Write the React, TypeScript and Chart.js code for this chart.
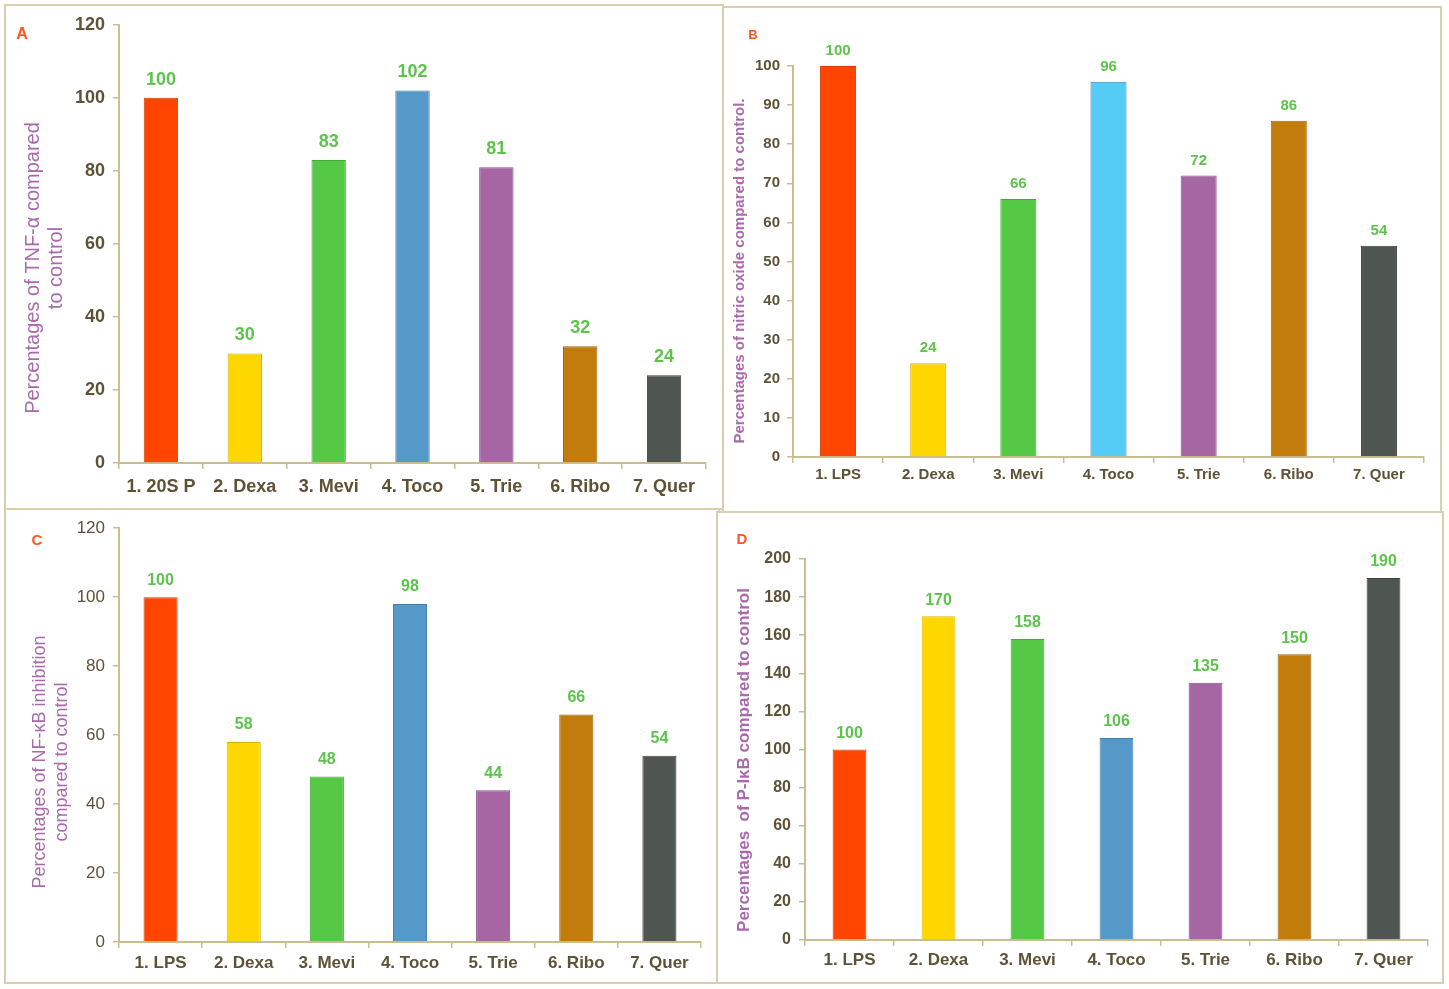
import React, { useEffect, useRef } from "react";
import { Chart, registerables } from "chart.js";

Chart.register(...registerables);

// ---------- data ----------
const labelsA = ["1. 20S P", "2. Dexa", "3. Mevi", "4. Toco", "5. Trie", "6. Ribo", "7. Quer"];
const labelsBCD = ["1. LPS", "2. Dexa", "3. Mevi", "4. Toco", "5. Trie", "6. Ribo", "7. Quer"];
const valuesA = [100, 30, 83, 102, 81, 32, 24];
const valuesB = [100, 24, 66, 96, 72, 86, 54];
const valuesC = [100, 58, 48, 98, 44, 66, 54];
const valuesD = [100, 170, 158, 106, 135, 150, 190];
const titleA = ["Percentages of TNF-\u03b1 compared", "to control"];
const titleB = ["Percentages of nitric oxide compared to control."];
const titleC = ["Percentages of NF-\u03baB inhibition", "compared to control"];
const titleD = ["Percentages  of P-I\u03baB compared to control"];

// ---------- styles ----------
const barColors = ["#ff4500", "#ffd700", "#55c946", "#5599c8", "#a566a3", "#c27c0c", "#4f5551"];
const barColorsB = ["#ff4500", "#ffd700", "#55c946", "#55ccf5", "#a566a3", "#c27c0c", "#4f5551"];
const barBorders = ["#d63a00", "#d8b400", "#45a838", "#427eaa", "#875086", "#9c6208", "#3a403c"];
const TAN = "#cbbd92";
const TICK = "#5e5236";
const GREEN = "#5cc44a";
const PURPLE = "#a96aac";
const LETTER = "#ff5522";
const FAMILY = "'Liberation Sans', Arial, sans-serif";

type PanelCfg = {
  rect: { l: number; t: number; r: number; b: number };
  area: { l: number; t: number; r: number; b: number };
  labels: string[];
  values: number[];
  colors: string[];
  max: number;
  step: number;
  yFont: { size: number; weight: string };
  xFont: { size: number; weight: string };
  xPad: number;
  yPad: number;
  valFont: number;
  valOff: number;
  barPct: number;
  letter: string;
  letterPos: [number, number];
  letterSize: number;
  title: string[];
  titleX: number[];
  titleY: number;
  titleFont: string;
};

const panels: PanelCfg[] = [
  {
    rect: { l: 6, t: 6, r: 722, b: 508 },
    area: { l: 119, t: 24, r: 706, b: 463 },
    labels: labelsA, values: valuesA, colors: barColors, max: 120, step: 20,
    yFont: { size: 18, weight: "bold" }, xFont: { size: 18, weight: "bold" },
    xPad: 7, yPad: 8, valFont: 18, valOff: 18, barPct: 0.41,
    letter: "A", letterPos: [22, 35], letterSize: 16,
    title: titleA, titleX: [33, 56], titleY: 268, titleFont: "normal 20px " + FAMILY,
  },
  {
    rect: { l: 724, t: 8, r: 1440, b: 512 },
    area: { l: 793, t: 66, r: 1424, b: 457 },
    labels: labelsBCD, values: valuesB, colors: barColorsB, max: 100, step: 10,
    yFont: { size: 15, weight: "bold" }, xFont: { size: 15, weight: "bold" },
    xPad: 3, yPad: 7, valFont: 15, valOff: 15, barPct: 0.4,
    letter: "B", letterPos: [753, 35], letterSize: 13,
    title: titleB, titleX: [740], titleY: 271, titleFont: "bold 15px " + FAMILY,
  },
  {
    rect: { l: 6, t: 510, r: 718, b: 982 },
    area: { l: 119, t: 528, r: 701, b: 942 },
    labels: labelsBCD, values: valuesC, colors: barColors, max: 120, step: 20,
    yFont: { size: 17, weight: "normal" }, xFont: { size: 17, weight: "bold" },
    xPad: 5, yPad: 8, valFont: 16, valOff: 17, barPct: 0.41,
    letter: "C", letterPos: [37, 541], letterSize: 15,
    title: titleC, titleX: [40, 62], titleY: 762, titleFont: "normal 18px " + FAMILY,
  },
  {
    rect: { l: 718, t: 513, r: 1442, b: 982 },
    area: { l: 805, t: 559, r: 1428, b: 940 },
    labels: labelsBCD, values: valuesD, colors: barColors, max: 200, step: 20,
    yFont: { size: 16, weight: "bold" }, xFont: { size: 17, weight: "bold" },
    xPad: 4, yPad: 8, valFont: 16, valOff: 16, barPct: 0.38,
    letter: "D", letterPos: [742, 540], letterSize: 15,
    title: titleD, titleX: [744], titleY: 760, titleFont: "bold 17px " + FAMILY,
  },
];

function Panel({ cfg }: { cfg: PanelCfg }) {
  const ref = useRef<HTMLCanvasElement>(null);
  useEffect(() => {
    const canvas = ref.current!;
    const { rect, area } = cfg;
    const W = rect.r - rect.l;
    const H = rect.b - rect.t;
    const decor = {
      id: "decor",
      afterDatasetsDraw(chart: any) {
        const ctx = chart.ctx;
        const meta = chart.getDatasetMeta(0);
        ctx.save();
        ctx.fillStyle = GREEN;
        ctx.font = `bold ${cfg.valFont}px ${FAMILY}`;
        ctx.textAlign = "center";
        ctx.textBaseline = "middle";
        meta.data.forEach((bar: any, i: number) => {
          ctx.fillText(String(cfg.values[i]), bar.x, bar.y - cfg.valOff);
        });
        ctx.restore();
      },
      afterDraw(chart: any) {
        const ctx = chart.ctx;
        ctx.save();
        ctx.fillStyle = LETTER;
        ctx.font = `bold ${cfg.letterSize}px ${FAMILY}`;
        ctx.textAlign = "center";
        ctx.textBaseline = "middle";
        ctx.fillText(cfg.letter, cfg.letterPos[0] - rect.l, cfg.letterPos[1] - rect.t);
        ctx.fillStyle = PURPLE;
        ctx.font = cfg.titleFont;
        cfg.title.forEach((line, i) => {
          ctx.save();
          ctx.translate(cfg.titleX[i] - rect.l, cfg.titleY - rect.t);
          ctx.rotate(-Math.PI / 2);
          ctx.fillText(line, 0, 0);
          ctx.restore();
        });
        ctx.restore();
      },
    };
    const chart = new Chart(canvas, {
      type: "bar",
      data: {
        labels: cfg.labels,
        datasets: [
          {
            data: cfg.values,
            backgroundColor: cfg.colors,
            borderColor: barBorders,
            borderWidth: 1,
            barPercentage: cfg.barPct,
            categoryPercentage: 1,
          },
        ],
      },
      options: {
        animation: false,
        responsive: false,
        maintainAspectRatio: false,
        devicePixelRatio: 1,
        layout: {
          padding: { top: area.t - rect.t, right: rect.r - area.r, left: 0, bottom: 0 },
        },
        plugins: { legend: { display: false }, tooltip: { enabled: false } },
        scales: {
          x: {
            grid: { drawOnChartArea: false, tickLength: 6, color: TAN, lineWidth: 1.5, offset: true },
            border: { color: TAN, width: 2 },
            ticks: {
              color: TICK,
              padding: cfg.xPad,
              maxRotation: 0,
              autoSkip: false,
              font: { family: FAMILY, size: cfg.xFont.size, weight: cfg.xFont.weight as any },
            },
            afterFit: (s: any) => {
              s.height = rect.b - area.b;
            },
          },
          y: {
            min: 0,
            max: cfg.max,
            grid: { drawOnChartArea: false, tickLength: 6, color: TAN, lineWidth: 1.5 },
            border: { color: TAN, width: 2 },
            ticks: {
              stepSize: cfg.step,
              color: TICK,
              padding: cfg.yPad,
              font: { family: FAMILY, size: cfg.yFont.size, weight: cfg.yFont.weight as any },
            },
            afterFit: (s: any) => {
              s.width = area.l - rect.l;
            },
          },
        },
      },
      plugins: [decor],
    });
    return () => chart.destroy();
  }, [cfg]);
  const { rect } = cfg;
  return (
    <div
      style={{
        position: "absolute",
        left: rect.l - 2,
        top: rect.t - 2,
        width: rect.r - rect.l,
        height: rect.b - rect.t,
        border: "2px solid #d9cfae",
        background: "#fff",
      }}
    >
      <canvas
        ref={ref}
        width={rect.r - rect.l}
        height={rect.b - rect.t}
        style={{ display: "block", width: rect.r - rect.l, height: rect.b - rect.t }}
      />
    </div>
  );
}

export default function App() {
  return (
    <div style={{ position: "absolute", left: 0, top: 0, width: 1449, height: 989, background: "#fff" }}>
      {panels.map((p) => (
        <Panel key={p.letter} cfg={p} />
      ))}
    </div>
  );
}
